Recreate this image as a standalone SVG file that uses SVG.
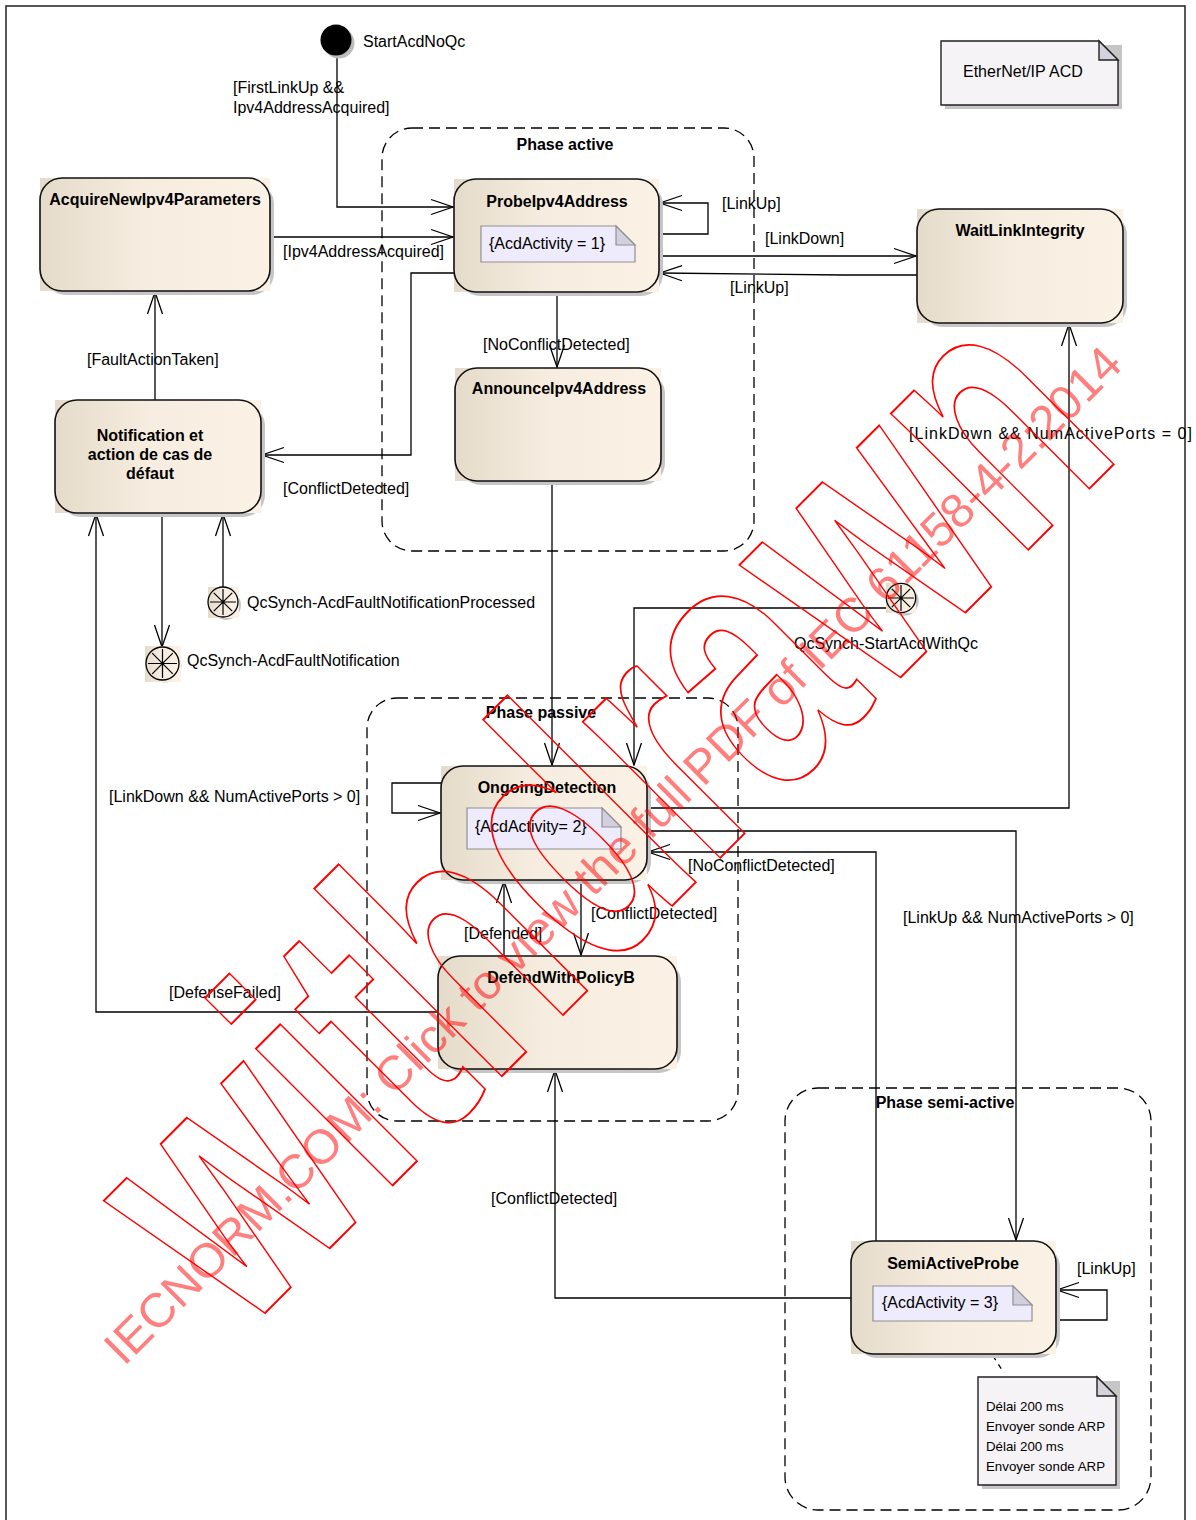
<svg xmlns="http://www.w3.org/2000/svg" width="1196" height="1520" viewBox="0 0 1196 1520">
<defs>
<linearGradient id="nodeGrad" x1="0" y1="0" x2="1" y2="0">
<stop offset="0" stop-color="#e5dbca"/>
<stop offset="0.45" stop-color="#f6ede0"/>
<stop offset="1" stop-color="#fbf2e5"/>
</linearGradient>
<marker id="arr" viewBox="-24 -10 26 20" refX="0" refY="0" markerWidth="26" markerHeight="20" markerUnits="userSpaceOnUse" orient="auto">
<path d="M-22,-7.5 L0,0 L-22,7.5" fill="none" stroke="#000" stroke-width="1.3"/>
</marker>
<style>
.shadow{fill:#c6c6c6;}
.bg{fill:url(#nodeGrad);}
.border{fill:none;stroke:#111;stroke-width:1.6;}
.title{font-family:"Liberation Sans",Arial,sans-serif;font-size:16px;font-weight:bold;fill:#000;text-anchor:middle;}
.lbl{font-family:"Liberation Sans",Arial,sans-serif;font-size:16px;fill:#000;}
.small{font-family:"Liberation Sans",Arial,sans-serif;font-size:13.3px;fill:#000;}
.inote{fill:#eeecfc;stroke:#8f8f8f;stroke-width:1.2;}
.fold{fill:#d2d0df;stroke:#8f8f8f;stroke-width:1.2;}
.note{fill:#f6f3f6;stroke:#222;stroke-width:1.4;}
.foldd{fill:#d4d2dc;stroke:#222;stroke-width:1.4;}
.conn{fill:none;stroke:#000;stroke-width:1.3;}
.arrow{marker-end:url(#arr);}
.phase{fill:none;stroke:#000;stroke-width:1.3;stroke-dasharray:11 6;}
.spoke{stroke:#000;stroke-width:1.2;}
.wm{font-family:"Liberation Sans",Arial,sans-serif;font-size:48px;fill:#ff0000;fill-opacity:0.5;}
.wm2{font-family:"Liberation Sans",Arial,sans-serif;font-size:366px;font-weight:bold;fill:none;stroke:#ff0000;stroke-width:2;}
</style>
</defs>

<rect x="6" y="6" width="1179" height="1530" fill="none" stroke="#222" stroke-width="1.5"/>

<!-- Phase regions -->
<g id="PhaseActive">
<rect class="phase" x="382" y="128" width="372" height="423" rx="30"/>
<text class="title" x="565" y="150">Phase active</text>
</g>
<g id="PhasePassive">
<rect class="phase" x="367" y="698" width="371" height="423" rx="30"/>
<text class="title" x="541" y="718">Phase passive</text>
</g>
<g id="PhaseSemiActive">
<rect class="phase" x="785" y="1088" width="366" height="422" rx="33"/>
<text class="title" x="945" y="1108">Phase semi-active</text>
</g>

<!-- Connectors -->
<g id="connectors">
<path class="conn arrow" d="M337,56 V207 H453"/>
<path class="conn arrow" d="M270,237 H453"/>
<path class="conn arrow" d="M659,234 H708 V203 H660"/>
<path class="conn arrow" d="M659,256 H916"/>
<path class="conn arrow" d="M917,275 L843,275 L660,273"/>
<path class="conn arrow" d="M454,273 H411 V455 H262"/>
<path class="conn arrow" d="M557,292 V367"/>
<path class="conn arrow" d="M155,400 V292"/>
<path class="conn arrow" d="M162,513 V647"/>
<path class="conn arrow" d="M223,587 V514"/>
<path class="conn arrow" d="M552,481 V765"/>
<path class="conn arrow" d="M888,608 H634 V765"/>
<path class="conn arrow" d="M441,783 H392 V813 H440"/>
<path class="conn arrow" d="M647,808 H1069 V324"/>
<path class="conn arrow" d="M647,831 H1016 V1240"/>
<path class="conn arrow" d="M876,1241 V852 H648"/>
<path class="conn arrow" d="M581,880 V955"/>
<path class="conn arrow" d="M504,956 V881"/>
<path class="conn arrow" d="M438,1012 H96 V514"/>
<path class="conn arrow" d="M851,1298 H555 V1070"/>
<path class="conn arrow" d="M1056,1320 H1107 V1290 H1057"/>
<path class="conn" d="M993,1356 L1004,1373" stroke-dasharray="5 5"/>

<text class="lbl" x="233" y="93">[FirstLinkUp &amp;&amp;</text>
<text class="lbl" x="233" y="113">Ipv4AddressAcquired]</text>
<text class="lbl" x="283" y="257">[Ipv4AddressAcquired]</text>
<text class="lbl" x="722" y="209">[LinkUp]</text>
<text class="lbl" x="765" y="244">[LinkDown]</text>
<text class="lbl" x="730" y="293">[LinkUp]</text>
<text class="lbl" x="483" y="350">[NoConflictDetected]</text>
<text class="lbl" x="87" y="365">[FaultActionTaken]</text>
<text class="lbl" x="283" y="494">[ConflictDetected]</text>
<text class="lbl" x="909" y="439" textLength="283" lengthAdjust="spacing">[LinkDown &amp;&amp; NumActivePorts = 0]</text>
<text class="lbl" x="109" y="802">[LinkDown &amp;&amp; NumActivePorts &gt; 0]</text>
<text class="lbl" x="688" y="871">[NoConflictDetected]</text>
<text class="lbl" x="591" y="919">[ConflictDetected]</text>
<text class="lbl" x="464" y="939">[Defended]</text>
<text class="lbl" x="903" y="923">[LinkUp &amp;&amp; NumActivePorts &gt; 0]</text>
<text class="lbl" x="169" y="998">[DefenseFailed]</text>
<text class="lbl" x="491" y="1204">[ConflictDetected]</text>
<text class="lbl" x="1077" y="1274">[LinkUp]</text>
</g>

<!-- Initial state -->
<g id="StartAcdNoQc">
<circle cx="339" cy="43" r="15.5" fill="#bdbdbd"/>
<circle cx="336" cy="40" r="15.5" fill="#000"/>
<text class="lbl" x="363" y="47">StartAcdNoQc</text>
</g>

<!-- Note EtherNet/IP ACD -->
<g id="NoteEtherNetIPACD">
<path d="M945,45 H1122 V109 H945 Z" fill="#c6c6c6"/>
<path class="note" d="M941,41 H1099 L1118,60 V105 H941 Z"/>
<path class="foldd" d="M1099,41 L1118,60 H1099 Z"/>
<text class="lbl" x="963" y="77">EtherNet/IP ACD</text>
</g>

<g id="AcquireNewIpv4Parameters">
<rect class="shadow" x="44" y="182" width="230" height="113" rx="22"/>
<rect class="bg" x="40" y="178" width="230" height="113"/>
<rect class="border" x="40" y="178" width="230" height="113" rx="22"/>
<text class="title" x="155" y="205">AcquireNewIpv4Parameters</text>
</g>

<g id="ProbeIpv4Address">
<rect class="shadow" x="458" y="183" width="205" height="113" rx="22"/>
<rect class="bg" x="454" y="179" width="205" height="113"/>
<rect class="border" x="454" y="179" width="205" height="113" rx="22"/>
<text class="title" x="557" y="206.5">ProbeIpv4Address</text>
<path class="inote" d="M481,226 H616 L635,245 V262 H481 Z"/>
<path class="fold" d="M616,226 L635,245 H616 Z"/>
<text class="lbl" x="489" y="249">{AcdActivity = 1}</text>
</g>

<g id="WaitLinkIntegrity">
<rect class="shadow" x="921" y="213" width="206" height="114" rx="22"/>
<rect class="bg" x="917" y="209" width="206" height="114"/>
<rect class="border" x="917" y="209" width="206" height="114" rx="22"/>
<text class="title" x="1020" y="235.5">WaitLinkIntegrity</text>
</g>

<g id="NotificationEtActionDeCasDeDefaut">
<rect class="shadow" x="59" y="404" width="206" height="113" rx="22"/>
<rect class="bg" x="55" y="400" width="206" height="113"/>
<rect class="border" x="55" y="400" width="206" height="113" rx="22"/>
<text class="title" x="150" y="440.5">Notification et</text>
<text class="title" x="150" y="459.5">action de cas de</text>
<text class="title" x="150" y="478.5">défaut</text>
</g>

<g id="AnnounceIpv4Address">
<rect class="shadow" x="459" y="372" width="206" height="113" rx="22"/>
<rect class="bg" x="455" y="368" width="206" height="113"/>
<rect class="border" x="455" y="368" width="206" height="113" rx="22"/>
<text class="title" x="559" y="394">AnnounceIpv4Address</text>
</g>

<g id="QcSynch-AcdFaultNotificationProcessed">
<circle cx="226" cy="605" r="15" fill="#c6c6c6"/>
<rect x="208" y="587" width="31" height="31" fill="url(#nodeGrad)"/>
<circle cx="223" cy="602" r="15" fill="none" stroke="#000" stroke-width="1.3"/>
<path class="spoke" d="M223,589 V615 M210,602 H236 M213.8,592.8 L232.2,611.2 M232.2,592.8 L213.8,611.2"/>
<text class="lbl" x="247" y="608">QcSynch-AcdFaultNotificationProcessed</text>
</g>

<g id="QcSynch-AcdFaultNotification">
<circle cx="165" cy="666" r="16.5" fill="#c6c6c6"/>
<rect x="145" y="646" width="36" height="36" fill="url(#nodeGrad)"/>
<circle cx="162.5" cy="663.5" r="16.5" fill="none" stroke="#000" stroke-width="1.3"/>
<path class="spoke" d="M162.5,649 V678 M148,663.5 H177 M152.2,653.2 L172.8,673.8 M172.8,653.2 L152.2,673.8"/>
<text class="lbl" x="187" y="666">QcSynch-AcdFaultNotification</text>
</g>

<g id="QcSynch-StartAcdWithQc">
<circle cx="904" cy="601" r="14.7" fill="#c6c6c6"/>
<rect x="886" y="583" width="30" height="30" fill="url(#nodeGrad)"/>
<circle cx="901" cy="598" r="14.7" fill="none" stroke="#000" stroke-width="1.3"/>
<path class="spoke" d="M901,585 V611 M888,598 H914 M891.8,588.8 L910.2,607.2 M910.2,588.8 L891.8,607.2"/>
<text class="lbl" x="794" y="649">QcSynch-StartAcdWithQc</text>
</g>

<g id="OngoingDetection">
<rect class="shadow" x="445" y="770" width="206" height="114" rx="22"/>
<rect class="bg" x="441" y="766" width="206" height="114"/>
<rect class="border" x="441" y="766" width="206" height="114" rx="22"/>
<text class="title" x="547" y="793">OngoingDetection</text>
<path class="inote" d="M467,808 H602 L621,827 V849 H467 Z"/>
<path class="fold" d="M602,808 L621,827 H602 Z"/>
<text class="lbl" x="475" y="831.5">{AcdActivity= 2}</text>
</g>

<g id="DefendWithPolicyB">
<rect class="shadow" x="442" y="960" width="239" height="113" rx="22"/>
<rect class="bg" x="438" y="956" width="239" height="113"/>
<rect class="border" x="438" y="956" width="239" height="113" rx="22"/>
<text class="title" x="561" y="983">DefendWithPolicyB</text>
</g>

<g id="SemiActiveProbe">
<rect class="shadow" x="855" y="1245" width="205" height="113" rx="22"/>
<rect class="bg" x="851" y="1241" width="205" height="113"/>
<rect class="border" x="851" y="1241" width="205" height="113" rx="22"/>
<text class="title" x="953" y="1268.5">SemiActiveProbe</text>
<path class="inote" d="M873,1286 H1013 L1032,1305 V1321 H873 Z"/>
<path class="fold" d="M1013,1286 L1032,1305 H1013 Z"/>
<text class="lbl" x="882" y="1308">{AcdActivity = 3}</text>
</g>

<g id="NoteSemiActive">
<path d="M982,1381 H1120 V1489 H982 Z" fill="#c6c6c6"/>
<path class="note" d="M978,1377 H1097 L1116,1396 V1485 H978 Z"/>
<path class="foldd" d="M1097,1377 L1116,1396 H1097 Z"/>
<text class="small" x="986" y="1411">Délai 200 ms</text>
<text class="small" x="986" y="1431">Envoyer sonde ARP</text>
<text class="small" x="986" y="1451">Délai 200 ms</text>
<text class="small" x="986" y="1471">Envoyer sonde ARP</text>
</g>

<!-- Watermark -->
<g id="watermark">
<text class="wm2" transform="translate(241,1337) rotate(-45)" textLength="1250" lengthAdjust="spacingAndGlyphs">withdrawn</text>
<text class="wm" transform="translate(124,1367) rotate(-45)" textLength="1415" lengthAdjust="spacingAndGlyphs">IECNORM.COM: Click to view the full PDF of IEC 61158-4-2:2014</text>
</g>
</svg>
